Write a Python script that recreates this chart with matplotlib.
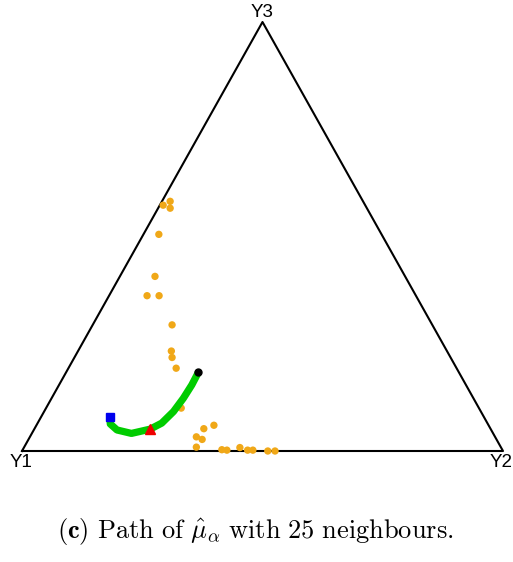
import numpy as np
import matplotlib
matplotlib.use("Agg")
import matplotlib.pyplot as plt

plt.rcParams['mathtext.fontset'] = 'cm'

# compositions (Y1, Y2, Y3) of the neighbours
nb_y1 = [0.420, 0.401, 0.409, 0.463, 0.520, 0.559, 0.534, 0.541, 0.573, 0.579,
         0.583, 0.619, 0.571, 0.596, 0.621, 0.612, 0.633, 0.583, 0.573, 0.543,
         0.530, 0.519, 0.489, 0.474]
nb_y2 = [0.007, 0.017, 0.025, 0.032, 0.073, 0.079, 0.104, 0.165, 0.194, 0.203,
         0.224, 0.281, 0.369, 0.352, 0.346, 0.361, 0.358, 0.414, 0.425, 0.449,
         0.468, 0.479, 0.511, 0.526]
nb_y3 = [0.573, 0.582, 0.566, 0.505, 0.407, 0.362, 0.362, 0.294, 0.233, 0.218,
         0.193, 0.100, 0.060, 0.052, 0.033, 0.027, 0.009, 0.003, 0.002, 0.008,
         0.002, 0.002, 0.000, 0.000]

# path of mu_alpha
path_y1 = [0.777, 0.785, 0.778, 0.752, 0.708, 0.677, 0.639, 0.603, 0.570, 0.542]
path_y2 = [0.143, 0.152, 0.173, 0.207, 0.241, 0.258, 0.269, 0.274, 0.276, 0.275]
path_y3 = [0.080, 0.063, 0.049, 0.041, 0.051, 0.065, 0.092, 0.123, 0.154, 0.183]
mark_idx = 4   # where the red triangle sits on the path


def project(y1, y2, y3):
    y1, y2, y3 = np.asarray(y1), np.asarray(y2), np.asarray(y3)
    s = y1 + y2 + y3
    return (y2 + y3 / 2) / s, y3 / s


W, H = 513, 562
fig = plt.figure(figsize=(W / 100, H / 100), dpi=100)
ax = fig.add_axes([22 / W, (H - 451) / H, 481 / W, 429 / H])
ax.set_xlim(0, 1)
ax.set_ylim(0, 1)
ax.axis('off')

# triangle outline
tx, ty = project([1, 0, 0, 1], [0, 1, 0, 0], [0, 0, 1, 0])
ax.plot(tx, ty, color='black', lw=1.5, clip_on=False, zorder=1)

nx, ny = project(nb_y1, nb_y2, nb_y3)
ax.scatter(nx, ny, s=28, color='#F0A818', edgecolors='none', zorder=2, clip_on=False)

px, py = project(path_y1, path_y2, path_y3)
ax.plot(px, py, color='#00CC00', lw=5.2, solid_capstyle='round', zorder=3)
ax.plot(px[0], py[0], 's', color='#0000EE', ms=6, zorder=4)
ax.plot(px[mark_idx], py[mark_idx], '^', color='#EE0000', ms=7, zorder=4)
ax.plot(px[-1], py[-1], 'o', color='black', ms=5, zorder=4)

lab = dict(fontsize=13.5, family=['Liberation Sans', 'DejaVu Sans'])
ax.text(tx[0] - 0.002, ty[0] - 0.008, 'Y1', ha='center', va='top', **lab)
ax.text(tx[1] - 0.005, ty[1] - 0.008, 'Y2', ha='center', va='top', **lab)
ax.text(tx[2], ty[2] + 0.002, 'Y3', ha='center', va='bottom', **lab)

fig.text(255 / W, 1 - 532 / H,
         r'$\mathbf{(c)}$ $\mathrm{Path\ of}\ \hat{\mu}_\alpha\ \mathrm{with\ 25\ neighbours.}$',
         ha='center', va='center', fontsize=19)

fig.savefig('out.png', dpi=100)
